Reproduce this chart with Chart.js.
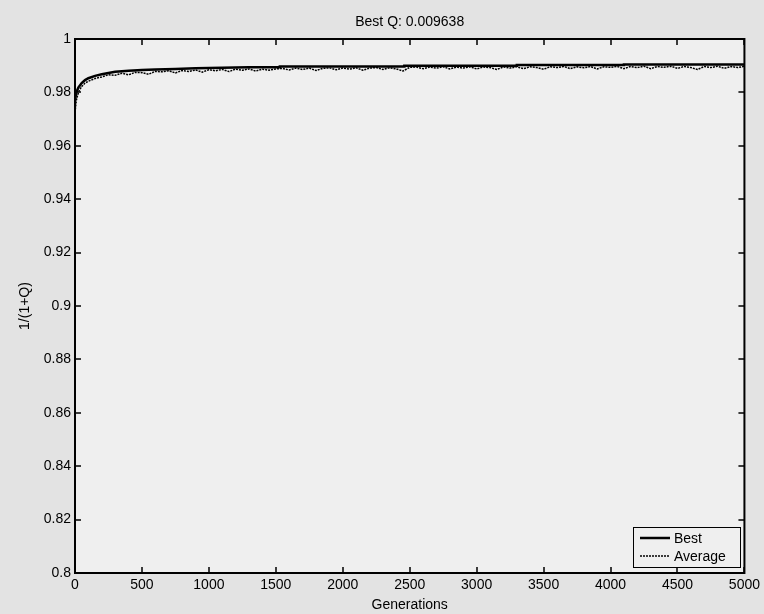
<!DOCTYPE html>
<html>
<head>
<meta charset="utf-8">
<script src="https://cdn.jsdelivr.net/npm/chart.js@4/dist/chart.umd.min.js"></script>
<style>
  html, body { margin: 0; padding: 0; background: #e3e3e3; }
  #wrap { width: 764px; height: 614px; }
</style>
</head>
<body>
<div id="wrap"><canvas id="fitness"></canvas></div>
<script>
// best individual per generation (stepped, monotonic)
const bestGens = [0, 10, 25, 50, 75, 100, 150, 200, 250, 300, 400, 500, 600, 750, 900, 1100, 1300, 1530, 1530, 2460, 2460, 3300, 3300, 4100, 4100, 5000];
const bestVals = [0.9770, 0.9800, 0.9818, 0.9835, 0.9846, 0.9853, 0.9862, 0.9868, 0.9873, 0.9877, 0.9881, 0.9884, 0.9886, 0.9888, 0.9890, 0.9892, 0.9894, 0.9894, 0.9897, 0.9897, 0.9900, 0.9900, 0.99025, 0.99025, 0.99045, 0.99045];

// population average per generation
const avgGens = [0, 10, 20, 30, 50, 75, 100, 150, 200, 250, 300, 350, 400, 450, 500, 550, 600, 650, 700, 750,
  800, 850, 900, 950, 1000, 1050, 1100, 1150, 1200, 1250, 1300, 1350, 1400, 1450, 1500, 1550, 1600, 1650, 1700, 1750,
  1800, 1850, 1900, 1950, 2000, 2050, 2100, 2150, 2200, 2250, 2300, 2350, 2400, 2450, 2500, 2550, 2600, 2650, 2700, 2750,
  2800, 2850, 2900, 2950, 3000, 3050, 3100, 3150, 3200, 3250, 3300, 3350, 3400, 3450, 3500, 3550, 3600, 3650, 3700, 3750,
  3800, 3850, 3900, 3950, 4000, 4050, 4100, 4150, 4200, 4250, 4300, 4350, 4400, 4450, 4500, 4550, 4600, 4650, 4700, 4750,
  4800, 4850, 4900, 4950, 5000];
const avgVals = [0.9725, 0.9770, 0.9790, 0.9805, 0.9822, 0.9835, 0.9842, 0.9852, 0.9858, 0.9866, 0.9864, 0.9872, 0.9866, 0.9875, 0.9874, 0.9868, 0.9879, 0.9877, 0.9881, 0.9873,
  0.9882, 0.9878, 0.9884, 0.9876, 0.9885, 0.9881, 0.9886, 0.9878, 0.9887, 0.9883, 0.9888, 0.9880, 0.9887, 0.9883, 0.9888, 0.9890, 0.9884, 0.9891, 0.9886, 0.9891,
  0.9882, 0.9890, 0.9892, 0.9885, 0.9891, 0.9887, 0.9892, 0.9883, 0.9891, 0.9893, 0.9886, 0.9892, 0.9888, 0.9880, 0.9894, 0.9895, 0.9889, 0.9895, 0.9891, 0.9896,
  0.9888, 0.9895, 0.9891, 0.9896, 0.9888, 0.9895, 0.9893, 0.9886, 0.9895, 0.9891, 0.9896, 0.9889, 0.9896, 0.9893, 0.9887, 0.9896, 0.9893, 0.9897, 0.9889, 0.9896,
  0.9892, 0.9897, 0.9888, 0.9896, 0.9894, 0.9897, 0.9889, 0.9897, 0.9893, 0.9898, 0.9889, 0.9897, 0.9894, 0.9898, 0.9890, 0.9897, 0.9893, 0.9886, 0.9897, 0.9893,
  0.9898, 0.9890, 0.9897, 0.9893, 0.9898];

const xTicks = [0, 500, 1000, 1500, 2000, 2500, 3000, 3500, 4000, 4500, 5000];
const yTicks = [0.8, 0.82, 0.84, 0.86, 0.88, 0.9, 0.92, 0.94, 0.96, 0.98, 1];
const bestQ = 0.009638;

const FONT = 'Liberation Sans, Arial, sans-serif';

// matlab-style box: inward ticks on all four sides, title and legend inside the axes
const axesBox = {
  id: 'axesBox',
  beforeDraw(chart) {
    const { ctx, chartArea: a } = chart;
    ctx.save();
    ctx.fillStyle = '#efefef';
    ctx.fillRect(a.left, a.top, a.right - a.left, a.bottom - a.top);
    ctx.restore();
  },
  afterDraw(chart) {
    const { ctx, chartArea: a, scales: { x, y } } = chart;
    const tick = 6;
    ctx.save();
    ctx.strokeStyle = '#000';
    ctx.lineWidth = 2;
    ctx.strokeRect(a.left, a.top, a.right - a.left, a.bottom - a.top);
    ctx.lineWidth = 1.5;
    ctx.beginPath();
    xTicks.forEach(v => {
      const px = Math.round(x.getPixelForValue(v));
      ctx.moveTo(px, a.bottom); ctx.lineTo(px, a.bottom - tick);
      ctx.moveTo(px, a.top); ctx.lineTo(px, a.top + tick);
    });
    yTicks.forEach(v => {
      const py = Math.round(y.getPixelForValue(v));
      ctx.moveTo(a.left, py); ctx.lineTo(a.left + tick, py);
      ctx.moveTo(a.right, py); ctx.lineTo(a.right - tick, py);
    });
    ctx.stroke();

    // title
    ctx.fillStyle = '#000';
    ctx.font = '14px ' + FONT;
    ctx.textAlign = 'center';
    ctx.textBaseline = 'middle';
    ctx.fillText('Best Q: ' + bestQ, (a.left + a.right) / 2, 22);

    // legend, lower right
    const bx = 633, by = 527, bw = 107, bh = 40;
    ctx.fillStyle = '#efefef';
    ctx.fillRect(bx, by, bw, bh);
    ctx.lineWidth = 1;
    ctx.strokeRect(bx + 0.5, by + 0.5, bw, bh);
    chart.data.datasets.forEach((ds, i) => {
      const ly = by + 11 + i * 18;
      ctx.beginPath();
      ctx.setLineDash(ds.borderDash || []);
      ctx.lineWidth = ds.borderWidth;
      ctx.moveTo(bx + 7, ly);
      ctx.lineTo(bx + 37, ly);
      ctx.stroke();
      ctx.setLineDash([]);
      ctx.fillStyle = '#000';
      ctx.textAlign = 'left';
      ctx.fillText(ds.label, bx + 41, ly + 1);
    });
    ctx.restore();
  }
};

new Chart(document.getElementById('fitness'), {
  type: 'line',
  data: {
    datasets: [{
      label: 'Best',
      data: bestGens.map((g, i) => ({ x: g, y: bestVals[i] })),
      borderColor: '#000',
      borderWidth: 2.5,
      pointRadius: 0,
      tension: 0
    }, {
      label: 'Average',
      data: avgGens.map((g, i) => ({ x: g, y: avgVals[i] })),
      borderColor: '#000',
      borderWidth: 1.5,
      borderDash: [2, 1],
      pointRadius: 0,
      tension: 0
    }]
  },
  options: {
    responsive: true,
    maintainAspectRatio: false,
    animation: false,
    layout: { padding: { top: 39, right: 18, left: 0, bottom: 0 } },
    plugins: {
      legend: { display: false },
      title: { display: false },
      tooltip: { enabled: false }
    },
    scales: {
      x: {
        type: 'linear',
        min: 0,
        max: 5000,
        afterBuildTicks: s => { s.ticks = xTicks.map(v => ({ value: v })); },
        afterFit: s => { s.height = 41; },
        grid: { drawOnChartArea: false, drawTicks: false },
        border: { display: false },
        ticks: { color: '#000', font: { family: FONT, size: 14 }, padding: 4, maxRotation: 0, callback: v => String(v) },
        title: { display: true, text: 'Generations', color: '#000', font: { family: FONT, size: 14 }, padding: 0 }
      },
      y: {
        min: 0.8,
        max: 1,
        afterBuildTicks: s => { s.ticks = yTicks.map(v => ({ value: v })); },
        afterFit: s => { s.width = 75; },
        grid: { drawOnChartArea: false, drawTicks: false },
        border: { display: false },
        ticks: { color: '#000', font: { family: FONT, size: 14 }, padding: 4, callback: v => String(+v.toFixed(2)) },
        title: { display: true, text: '1/(1+Q)', color: '#000', font: { family: FONT, size: 14 }, padding: { top: 17 } }
      }
    }
  },
  plugins: [axesBox]
});
</script>
</body>
</html>
